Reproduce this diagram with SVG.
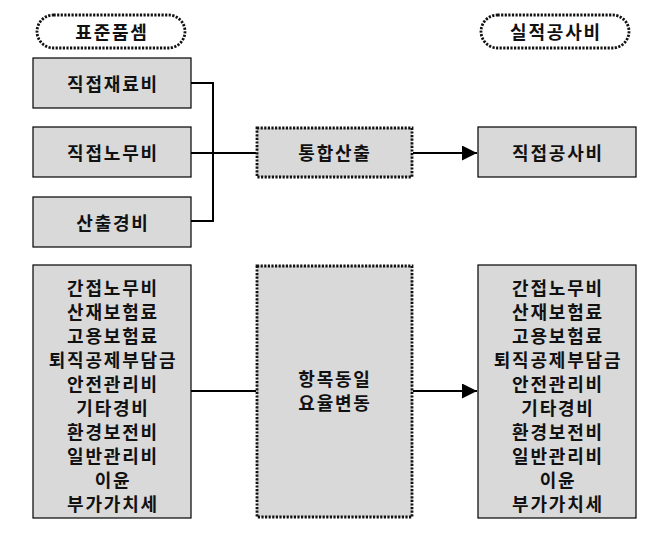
<svg xmlns="http://www.w3.org/2000/svg" width="660" height="534" viewBox="0 0 660 534">
<defs>
<style>
.box{fill:#d9d9d9;stroke:#000;stroke-width:1.2}
.dot{fill:#d9d9d9;stroke:#111;stroke-width:2.8;stroke-dasharray:2.2 1.4}
.pill{fill:#fff;stroke:#111;stroke-width:2.8;stroke-dasharray:2.2 1.4}
.t{font-family:"Noto Sans CJK KR","Noto Sans",sans-serif;font-weight:bold;font-size:18px;letter-spacing:1.8px;fill:#111;text-anchor:middle;dominant-baseline:central}
.ln{fill:none;stroke:#000;stroke-width:2}
</style>
<marker id="ah" markerWidth="16" markerHeight="16" refX="15" refY="7.5" orient="auto" markerUnits="userSpaceOnUse">
<path d="M0,0 L15,7.5 L0,15 Z" fill="#000"/>
</marker>
</defs>
<rect width="660" height="534" fill="#fff"/>
<g id="connectors">
<path class="ln" d="M191,83 H213 V221 H191"/>
<path class="ln" d="M191,153 H256"/>
<path class="ln" d="M413,153 H477" marker-end="url(#ah)"/>
<path class="ln" d="M191,391 H256"/>
<path class="ln" d="M413,391 H477" marker-end="url(#ah)"/>
</g>
<g id="label-standard">
<rect class="pill" x="37" y="15" width="148" height="33" rx="16.5"/>
<text class="t" x="112" y="31">표준품셈</text>
</g>
<g id="label-actual">
<rect class="pill" x="481" y="15" width="148" height="33" rx="16.5"/>
<text class="t" x="556" y="31">실적공사비</text>
</g>
<g id="node-material">
<rect class="box" x="33" y="58" width="158" height="50"/>
<text class="t" x="113" y="83">직접재료비</text>
</g>
<g id="node-labor">
<rect class="box" x="33" y="127" width="158" height="50"/>
<text class="t" x="113" y="152">직접노무비</text>
</g>
<g id="node-expense">
<rect class="box" x="33" y="197" width="158" height="50"/>
<text class="t" x="113" y="222">산출경비</text>
</g>
<g id="node-integrate">
<rect class="dot" x="257" y="128" width="155" height="49"/>
<text class="t" x="335" y="152">통합산출</text>
</g>
<g id="node-direct">
<rect class="box" x="478" y="127" width="158" height="50"/>
<text class="t" x="558" y="152">직접공사비</text>
</g>
<g id="node-indirect-left">
<rect class="box" x="33" y="265" width="158" height="253"/>
<text class="t" x="113" y="287">간접노무비</text>
<text class="t" x="113" y="311">산재보험료</text>
<text class="t" x="113" y="335">고용보험료</text>
<text class="t" x="113" y="359">퇴직공제부담금</text>
<text class="t" x="113" y="383">안전관리비</text>
<text class="t" x="113" y="407">기타경비</text>
<text class="t" x="113" y="431">환경보전비</text>
<text class="t" x="113" y="455">일반관리비</text>
<text class="t" x="113" y="479">이윤</text>
<text class="t" x="113" y="503">부가가치세</text>
</g>
<g id="node-rate">
<rect class="dot" x="257" y="266" width="155" height="251"/>
<text class="t" x="335" y="378">항목동일</text>
<text class="t" x="335" y="402">요율변동</text>
</g>
<g id="node-indirect-right">
<rect class="box" x="478" y="265" width="158" height="253"/>
<text class="t" x="558" y="287">간접노무비</text>
<text class="t" x="558" y="311">산재보험료</text>
<text class="t" x="558" y="335">고용보험료</text>
<text class="t" x="558" y="359">퇴직공제부담금</text>
<text class="t" x="558" y="383">안전관리비</text>
<text class="t" x="558" y="407">기타경비</text>
<text class="t" x="558" y="431">환경보전비</text>
<text class="t" x="558" y="455">일반관리비</text>
<text class="t" x="558" y="479">이윤</text>
<text class="t" x="558" y="503">부가가치세</text>
</g>
</svg>
